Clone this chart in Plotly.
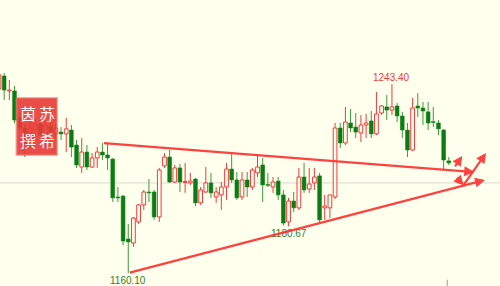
import plotly.graph_objects as go

# ---- data ----
idx = list(range(88))
opens = [1241.2, 1246.9, 1240.3, 1240.3, 1228.4, 1224.0, 1216.5, 1223.1, 1225.8, 1220.9,
         1224.9, 1221.4, 1222.2, 1221.4, 1223.1, 1216.5, 1206.8, 1213.4, 1206.8, 1210.8,
         1213.4, 1212.1, 1210.3, 1193.6, 1194.0, 1175.1, 1173.3, 1182.6, 1190.1, 1195.8,
         1195.8, 1184.8, 1207.3, 1211.2, 1200.2, 1206.4, 1200.0, 1199.8, 1201.5, 1191.0,
         1195.8, 1199.8, 1193.6, 1194.5, 1198.0, 1205.9, 1201.1, 1193.6, 1201.1, 1198.0,
         1204.2, 1207.7, 1199.1, 1198.0, 1200.6, 1194.5, 1182.6, 1191.8, 1188.8, 1202.4,
         1197.1, 1199.8, 1202.9, 1188.8, 1188.8, 1193.6, 1224.0, 1217.4, 1226.2, 1224.4,
         1221.8, 1225.3, 1227.1, 1221.4, 1230.6, 1233.3, 1231.9, 1233.7, 1229.3, 1223.1,
         1214.3, 1233.7, 1232.8, 1231.1, 1226.8, 1226.2, 1223.1, 1209.5]
highs = [1248.2, 1248.2, 1245.2, 1242.5, 1231.1, 1225.8, 1226.6, 1228.4, 1227.5, 1227.5,
         1226.6, 1225.8, 1224.4, 1228.4, 1225.3, 1218.7, 1219.6, 1216.5, 1213.0, 1215.6,
         1217.4, 1217.4, 1210.8, 1198.0, 1194.5, 1181.7, 1184.8, 1190.5, 1196.7, 1201.5,
         1196.7, 1206.4, 1213.0, 1214.3, 1207.7, 1208.1, 1208.6, 1204.2, 1202.0, 1198.0,
         1206.8, 1204.2, 1198.0, 1200.2, 1208.6, 1212.5, 1204.6, 1204.6, 1204.6, 1206.4,
         1212.1, 1210.8, 1204.2, 1202.4, 1202.4, 1196.7, 1193.2, 1195.8, 1206.4, 1208.6,
         1206.4, 1206.4, 1204.2, 1194.5, 1194.5, 1226.2, 1226.2, 1233.3, 1232.4, 1230.6,
         1229.7, 1230.2, 1231.5, 1239.9, 1234.1, 1238.5, 1243.4, 1235.0, 1231.1, 1226.2,
         1237.2, 1239.4, 1235.5, 1235.5, 1233.3, 1227.5, 1223.6, 1211.2]
lows = [1239.9, 1236.3, 1236.3, 1226.2, 1222.2, 1211.2, 1215.2, 1221.4, 1218.7, 1219.6,
        1219.6, 1218.7, 1218.7, 1213.4, 1211.2, 1206.4, 1204.2, 1205.5, 1206.4, 1206.4,
        1209.9, 1205.5, 1191.4, 1191.4, 1172.4, 1160.1, 1171.6, 1181.7, 1187.9, 1191.4,
        1183.5, 1182.6, 1206.4, 1199.8, 1199.8, 1195.8, 1195.4, 1198.9, 1189.6, 1190.1,
        1195.4, 1193.2, 1191.0, 1187.9, 1192.3, 1199.8, 1192.3, 1192.3, 1193.6, 1196.7,
        1202.4, 1191.4, 1198.0, 1195.4, 1192.3, 1181.0, 1180.67, 1187.0, 1187.9, 1195.4,
        1195.4, 1196.7, 1182.6, 1183.5, 1184.3, 1192.7, 1215.2, 1216.5, 1222.2, 1219.6,
        1217.8, 1219.6, 1219.6, 1220.9, 1229.7, 1227.5, 1229.7, 1226.6, 1219.6, 1211.2,
        1213.9, 1228.9, 1225.3, 1223.1, 1224.4, 1220.9, 1205.9, 1207.7]
closes = [1247.4, 1240.7, 1240.7, 1227.5, 1224.0, 1216.5, 1224.0, 1225.8, 1220.9, 1225.3,
          1222.2, 1224.0, 1221.4, 1223.6, 1215.6, 1207.7, 1213.4, 1206.8, 1210.8, 1213.4,
          1212.1, 1210.8, 1193.2, 1193.2, 1174.2, 1173.8, 1184.3, 1190.1, 1195.8, 1195.4,
          1184.8, 1205.5, 1211.2, 1200.2, 1206.4, 1200.2, 1200.4, 1200.6, 1191.0, 1196.7,
          1199.8, 1195.4, 1195.8, 1198.0, 1205.9, 1201.1, 1193.2, 1201.1, 1198.0, 1205.5,
          1206.8, 1198.9, 1198.7, 1200.2, 1194.5, 1182.1, 1191.8, 1188.8, 1202.4, 1196.7,
          1199.3, 1202.4, 1183.5, 1189.6, 1194.5, 1224.0, 1217.4, 1226.6, 1224.0, 1222.2,
          1225.3, 1226.2, 1221.4, 1230.2, 1233.7, 1231.9, 1233.3, 1229.3, 1223.1, 1214.3,
          1232.8, 1232.8, 1231.5, 1226.2, 1226.4, 1223.6, 1209.9, 1208.6]

high_label = (76, 1243.40, "1243.40")
low_labels = [(25, 1160.10, "1160.10"), (56, 1180.67, "1180.67")]
ref_price = 1199.8
# trend lines / arrows: (x_from, y_from, x_to, y_to) in bar index / price
trend_lines = [(20, 1217.4, 91.9, 1204.6),
               (25, 1160.1, 94.0, 1201.1)]
arrows = [(89.7, 1198.4, 94.2, 1213.0),
          (88.0, 1206.4, 89.6, 1211.7),
          (88.3, 1202.6, 89.9, 1198.7)]
stamp_chars = ["茵", "苏", "撰", "希"]

BG = "#ffffee"
RED = "#f23b3b"
GREEN = "#0a7d12"

up = [i for i in idx if closes[i] >= opens[i]]
dn = [i for i in idx if closes[i] < opens[i]]

def wicks(ids):
    xs, ys = [], []
    for i in ids:
        top = max(opens[i], closes[i])
        bot = min(opens[i], closes[i])
        xs += [i, i, None, i, i, None]
        ys += [highs[i], top, None, bot, lows[i], None]
    return xs, ys

fig = go.Figure()
MINH = 0.35
fig.add_trace(go.Bar(x=up, base=[opens[i] for i in up],
                     y=[max(closes[i] - opens[i], MINH) for i in up],
                     width=0.72, marker=dict(color=BG, line=dict(color=RED, width=1))))
fig.add_trace(go.Bar(x=dn, base=[closes[i] for i in dn],
                     y=[max(opens[i] - closes[i], MINH) for i in dn],
                     width=0.72, marker=dict(color=GREEN, line=dict(color=GREEN, width=0.6))))
wx, wy = wicks(up)
fig.add_trace(go.Scatter(x=wx, y=wy, mode="lines", line=dict(color=RED, width=1), hoverinfo="skip"))
wx, wy = wicks(dn)
fig.add_trace(go.Scatter(x=wx, y=wy, mode="lines", line=dict(color="#3d9a3d", width=1), hoverinfo="skip"))

shapes = [dict(type="line", xref="paper", yref="y", x0=0, x1=1, y0=ref_price, y1=ref_price,
               line=dict(color="#d9d9d0", width=1), layer="below"),
          dict(type="line", xref="x", yref="paper", x0=86.7, x1=86.7, y0=0, y1=0.022,
               line=dict(color="#9a9a9a", width=1)),
          dict(type="rect", xref="paper", yref="paper", x0=0.033, x1=0.114, y0=0.458, y1=0.657,
               fillcolor="rgba(232,58,52,0.9)", line=dict(color="rgba(235,120,110,0.6)", width=2))]

anns = []
anns.append(dict(x=high_label[0], y=high_label[1], text=high_label[2], showarrow=False,
                 yanchor="bottom", yshift=-1, font=dict(family="Liberation Sans", size=10, color=RED)))
for xi, pv, tx in low_labels:
    anns.append(dict(x=xi, y=pv, text=tx, showarrow=False, yanchor="top", yshift=0,
                     font=dict(family="Liberation Sans", size=10, color="#2f7f2f")))
for (x0, y0, x1, y1) in trend_lines + arrows:
    anns.append(dict(x=x1, y=y1, ax=x0, ay=y0, axref="x", ayref="y", xref="x", yref="y",
                     text="", showarrow=True, arrowhead=2, arrowsize=0.9, arrowwidth=2.2,
                     arrowcolor="rgba(255,50,50,0.92)", standoff=0, startstandoff=0))
pos = [(0.055, 0.604), (0.093, 0.604), (0.055, 0.512), (0.093, 0.512)]
for k, ch in enumerate(stamp_chars):
    anns.append(dict(xref="paper", yref="paper", x=pos[k][0], y=pos[k][1], text=ch, showarrow=False,
                     xanchor="center", yanchor="middle", borderpad=0,
                     font=dict(family="Noto Sans CJK SC", size=16, color="rgba(255,255,255,0.95)")))

fig.update_layout(width=500, height=286, margin=dict(l=0, r=0, t=0, b=0),
                  paper_bgcolor=BG, plot_bgcolor=BG, showlegend=False, barmode="overlay",
                  shapes=shapes, annotations=anns,
                  xaxis=dict(visible=False, range=[0.193, 96.9]),
                  yaxis=dict(visible=False, range=[1154.37, 1280.4]))
fig.write_html("out.html")
